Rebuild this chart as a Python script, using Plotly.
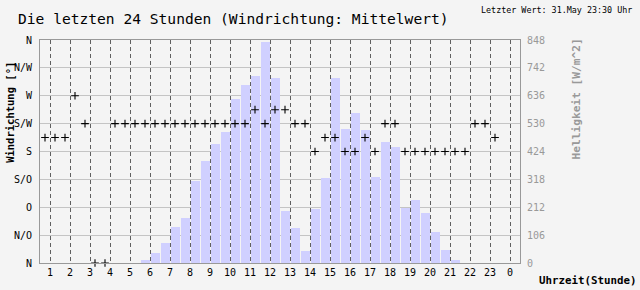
import plotly.graph_objects as go

# half-hour slots: slot k centred at hour 0.75 + 0.5*k
slot_pos = [0.75 + 0.5 * k for k in range(48)]

hour_ticks = list(range(1, 25))
hour_labels = [str(h) for h in range(1, 24)] + ["0"]

dir_ticks = [0, 45, 90, 135, 180, 225, 270, 315, 360]
dir_labels = ["N", "N/O", "O", "S/O", "S", "S/W", "W", "N/W", "N"]

bright_ticks = [0, 106, 212, 318, 424, 530, 636, 742, 848]

# wind direction (degrees) per half hour
wind_dir = [202.5, 202.5, 202.5, 270, 225, 0, 0, 225, 225, 225,
            225, 225, 225, 225, 225, 225, 225, 225, 225, 225,
            225, 247.5, 225, 247.5, 247.5, 225, 225, 180, 202.5, 202.5,
            180, 180, 202.5, 180, 225, 225, 180, 180, 180, 180,
            180, 180, 180, 225, 225, 202.5, None, None]

# brightness (W/m^2) per half hour
brightness = [0, 0, 0, 0, 0, 0, 0, 0, 0, 0,
              11, 38, 75, 136, 170, 313, 388, 452, 498, 622,
              678, 712, 840, 705, 196, 132, 45, 204, 324, 705,
              509, 569, 505, 328, 460, 441, 211, 238, 192, 117,
              49, 11, 0, 0, 0, 0, 0, 0]

MONO = "DejaVu Sans Mono"
L, R, T, B = 40, 520, 40, 265
W_, H_ = R - L, B - T


def px(x):
    return (x - L) / W_


def py(y):
    return (B - y) / H_


fig = go.Figure()
fig.add_trace(go.Bar(
    x=slot_pos, y=brightness, width=0.45,
    marker=dict(color="#d0d0ff", line=dict(width=0)),
    yaxis="y", hoverinfo="skip",
))
fig.add_trace(go.Scatter(
    x=slot_pos, y=wind_dir, mode="markers", yaxis="y2",
    marker=dict(symbol="cross-thin", size=5.5, line=dict(width=1.1, color="black"), color="black"),
    cliponaxis=False, hoverinfo="skip",
))

fig.update_layout(
    width=640, height=290,
    margin=dict(l=L, r=640 - R, t=T, b=290 - B, pad=0),
    paper_bgcolor="#f4f4f4", plot_bgcolor="#f4f4f4",
    showlegend=False, bargap=0,
    font=dict(family=MONO, size=10, color="black"),
    xaxis=dict(
        range=[0.5, 24.5], tickmode="array", tickvals=hour_ticks, ticktext=hour_labels,
        showgrid=True, gridcolor="#606060", griddash="4px,3px", gridwidth=1,
        showline=True, linecolor="#999999", linewidth=1, mirror=True,
        zeroline=False, ticks="", tickfont=dict(family=MONO, size=10, color="black"),
        fixedrange=True,
    ),
    yaxis=dict(
        range=[0, 848], tickmode="array", tickvals=bright_ticks,
        side="right", showgrid=True, gridcolor="#c4c4c4", gridwidth=1,
        showline=True, linecolor="#999999", linewidth=1, mirror=True,
        zeroline=False, ticks="", ticklabelstandoff=4,
        tickfont=dict(family=MONO, size=10, color="#999999"),
    ),
    yaxis2=dict(
        range=[0, 360], tickmode="array", tickvals=dir_ticks, ticktext=dir_labels,
        overlaying="y", side="left", showgrid=False,
        showline=True, linecolor="#999999", linewidth=1,
        zeroline=False, ticks="", ticklabelstandoff=5,
        tickfont=dict(family=MONO, size=10, color="black"),
    ),
    annotations=[
        dict(text="Die letzten 24 Stunden (Windrichtung: Mittelwert)", xref="paper", yref="paper",
             x=px(16), y=py(18), xanchor="left", yanchor="middle", showarrow=False,
             font=dict(family=MONO, size=14.6, color="black")),
        dict(text="Letzter Wert: 31.May 23:30 Uhr", xref="paper", yref="paper",
             x=px(634), y=py(10), xanchor="right", yanchor="middle", showarrow=False,
             font=dict(family=MONO, size=8.4, color="black")),
        dict(text="<b>Windrichtung [°]</b>", xref="paper", yref="paper",
             x=px(10), y=py(113.5), xanchor="center", yanchor="middle", textangle=-90,
             showarrow=False, font=dict(family=MONO, size=10.5, color="black")),
        dict(text="<b>Helligkeit [W/m^2]</b>", xref="paper", yref="paper",
             x=px(576), y=py(100), xanchor="center", yanchor="middle", textangle=-90,
             showarrow=False, font=dict(family=MONO, size=11.2, color="#999999")),
        dict(text="<b>Uhrzeit(Stunde)</b>", xref="paper", yref="paper",
             x=px(537), y=py(283), xanchor="left", yanchor="middle",
             showarrow=False, font=dict(family=MONO, size=10.8, color="black")),
    ],
)

fig.write_html("out.html", config={"displayModeBar": False, "staticPlot": True})
